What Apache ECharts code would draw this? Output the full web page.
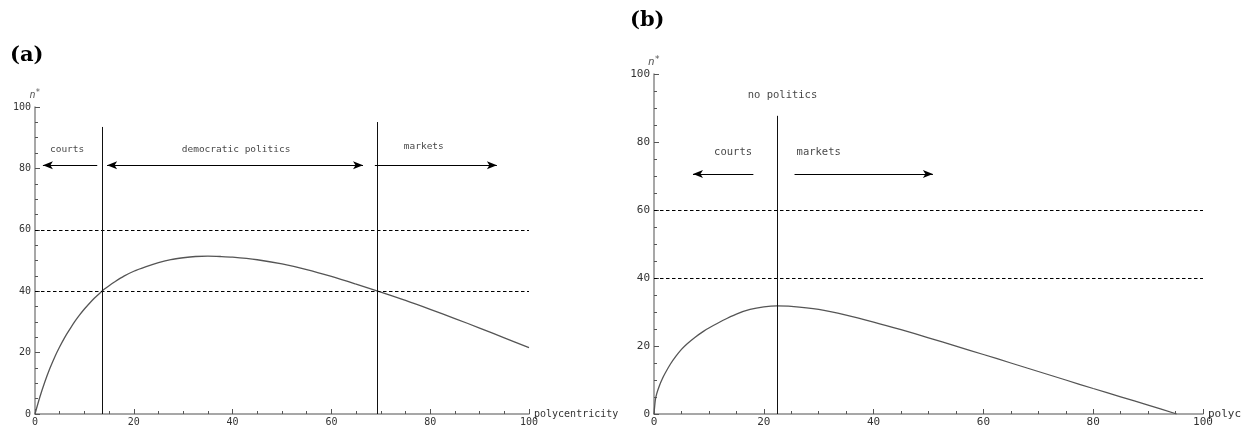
<!DOCTYPE html>
<html>
<head>
<meta charset="utf-8">
<script src="https://cdn.jsdelivr.net/npm/echarts@6/dist/echarts.min.js"></script>
<style>html,body{margin:0;padding:0;background:#fff}#c{width:1241px;height:425px}</style>
</head>
<body>
<div id="c"></div>
<script>
// ---------- data ----------
const xTickStep = 20;
const yTickStep = 20;

// panel (a)
const curveA_x = [0,1,2,3,4,5,6,7,8,9,10,11,12,13,14,15,16,18,20,22.5,25,27.5,30,32.5,35,37.5,40,45,50,55,60,65,70,75,80,85,90,95,100];
const curveA_y = [0,5.6,10.5,14.8,18.6,21.9,24.9,27.5,30.0,32.2,34.2,36.0,37.7,39.2,40.6,41.8,42.9,44.9,46.5,48.0,49.3,50.3,50.9,51.3,51.4,51.3,51.1,50.25,48.9,47.05,44.8,42.3,39.7,37.0,34.1,31.1,28.0,24.8,21.6];
const dashedA = [40, 60];
const verticalsA = [[13.6, 93.5], [69.3, 95.1]];          // [x, top]
const arrowsA = [[12.6, 1.6, 81, false, true], [14.6, 66.4, 81, true, true], [68.8, 93.5, 81, false, true]]; // [x1,x2,y,headAtStart,headAtEnd]
const labelsA = [['courts', 6.5, 86], ['democratic politics', 40.7, 86.3], ['markets', 78.7, 87]];

// panel (b)
const curveB_x = [0,0.25,0.5,1,1.5,2,3,4,5,6,7.5,9,10,12.5,15,17.5,20,22.4,25,30,35,40,45,50,55,60,65,70,75,80,85,90,95.2];
const curveB_y = [0,4.2,6.0,8.4,10.3,11.9,14.7,17.0,19.0,20.6,22.6,24.3,25.3,27.5,29.4,30.75,31.5,31.8,31.67,30.75,29.1,27.05,24.8,22.4,19.95,17.5,15.0,12.5,10.0,7.5,5.05,2.6,0];
const dashedB = [40, 60];
const verticalsB = [[22.4, 87.7]];
const arrowsB = [[18.1, 7.1, 70.6, false, true], [25.6, 50.8, 70.6, false, true]];
const labelsB = [['no politics', 23.4, 93.8], ['courts', 14.4, 76.9], ['markets', 30.0, 76.9]];

// ---------- chart ----------
const MONO = 'DejaVu Sans Mono';
function zip(xs, ys){ return xs.map((x,i)=>[x, ys[i]]); }

function xAxisCfg(idx, fs){
  return {
    gridIndex: idx, type: 'value', min: 0, max: 100, interval: xTickStep,
    axisLine: {show: true, onZero: false, lineStyle: {color: '#8a8a8a', width: 1.5}},
    axisTick: {show: true, inside: true, length: 5, lineStyle: {color: '#555', width: 1}},
    minorTick: {show: true, splitNumber: 4, length: 3, lineStyle: {color: '#555', width: 1}},
    splitLine: {show: false}, minorSplitLine: {show: false},
    axisLabel: {fontFamily: MONO, fontSize: fs, color: '#333', margin: 3},
    name: 'polycentricity', nameLocation: 'end', nameGap: 5, nameMoveOverlap: false,
    nameTextStyle: {fontFamily: MONO, fontSize: fs, color: '#333', verticalAlign: 'middle', padding: [0,0,4,0]}
  };
}
function yAxisCfg(idx, fs){
  return {
    gridIndex: idx, type: 'value', min: 0, max: 100, interval: yTickStep,
    axisLine: {show: true, onZero: false, lineStyle: {color: '#8a8a8a', width: 1.5}},
    axisTick: {show: true, inside: true, length: 5, lineStyle: {color: '#555', width: 1}},
    minorTick: {show: true, splitNumber: 4, length: 3, lineStyle: {color: '#555', width: 1}},
    splitLine: {show: false}, minorSplitLine: {show: false},
    axisLabel: {fontFamily: MONO, fontSize: fs, color: '#333', margin: 4},
    name: '{i|n}{s|*}', nameLocation: 'end', nameGap: 5, nameMoveOverlap: false,
    nameTextStyle: {
      align: 'center',
      rich: {
        i: {fontFamily: MONO, fontStyle: 'italic', fontSize: fs, color: '#555'},
        s: {fontFamily: MONO, fontSize: fs - 2, color: '#555', padding: [0,0,5,0]}
      }
    }
  };
}

function panelSeries(idx, cx, cy, dashed, verticals, arrows, labels, fs){
  const mlData = [];
  dashed.forEach(v => mlData.push([
    {coord: [0, v], symbol: 'none', lineStyle: {color: '#000', width: 1, type: [3.5, 2.5]}},
    {coord: [100, v], symbol: 'none'}
  ]));
  verticals.forEach(([x, top]) => mlData.push([
    {coord: [x, 0], symbol: 'none', lineStyle: {color: '#111', width: 1, type: 'solid'}},
    {coord: [x, top], symbol: 'none'}
  ]));
  arrows.forEach(([x1, x2, y, h1, h2]) => mlData.push([
    {coord: [x1, y], symbol: h1 ? 'arrow' : 'none', symbolSize: [6, 10], lineStyle: {color: '#000', width: 1, type: 'solid'}},
    {coord: [x2, y], symbol: h2 ? 'arrow' : 'none', symbolSize: [6, 10]}
  ]));
  return [
    {
      type: 'line', xAxisIndex: idx, yAxisIndex: idx,
      data: zip(cx, cy), smooth: 0.3, showSymbol: false, symbol: 'none',
      lineStyle: {color: '#555', width: 1.3}, silent: true, z: 3,
      markLine: {silent: true, animation: false, label: {show: false}, symbol: ['none','none'],
                 emphasis: {disabled: true}, data: mlData}
    },
    {
      type: 'scatter', xAxisIndex: idx, yAxisIndex: idx, silent: true,
      symbol: 'circle', symbolSize: 1, itemStyle: {color: 'rgba(0,0,0,0)'},
      data: labels.map(([t, x, y]) => ({name: t, value: [x, y]})),
      label: {show: true, position: 'inside', formatter: p => p.name,
              fontFamily: MONO, fontSize: fs, color: '#111'}
    }
  ];
}

const chart = echarts.init(document.getElementById('c'), null, {renderer: 'canvas'});
chart.setOption({
  animation: false,
  backgroundColor: '#fff',
  title: [
    {text: '(a)', left: 5, top: 40, textStyle: {fontFamily: 'DejaVu Serif', fontWeight: 'bold', fontSize: 21, color: '#000'}},
    {text: '(b)', left: 625, top: 5, textStyle: {fontFamily: 'DejaVu Serif', fontWeight: 'bold', fontSize: 21, color: '#000'}}
  ],
  grid: [
    {left: 35, top: 107, width: 494, height: 307, containLabel: false, outerBoundsMode: 'none'},
    {left: 654, top: 74, width: 549, height: 340, containLabel: false, outerBoundsMode: 'none'}
  ],
  xAxis: [xAxisCfg(0, 10), xAxisCfg(1, 11)],
  yAxis: [yAxisCfg(0, 10), yAxisCfg(1, 11)],
  series: [
    ...panelSeries(0, curveA_x, curveA_y, dashedA, verticalsA, arrowsA, labelsA, 9.5),
    ...panelSeries(1, curveB_x, curveB_y, dashedB, verticalsB, arrowsB, labelsB, 10.5)
  ]
});
</script>
</body>
</html>
